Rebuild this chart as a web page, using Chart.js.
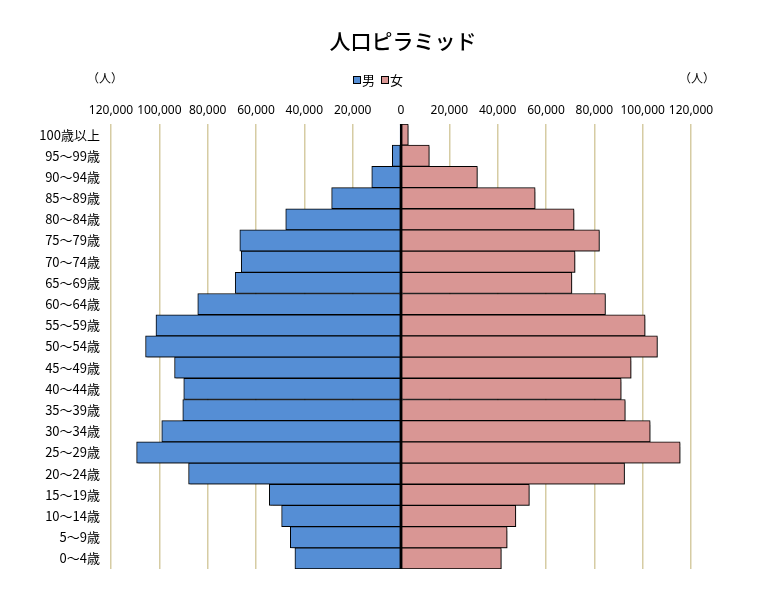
<!DOCTYPE html>
<html lang="ja">
<head>
<meta charset="utf-8">
<title>人口ピラミッド</title>
<script src="https://cdn.jsdelivr.net/npm/chart.js@4.4.1/dist/chart.umd.min.js"></script>
<style>
  html, body { margin: 0; padding: 0; background: #fff; }
  #wrap {
    position: relative;
    width: 765px;
    height: 612px;
    font-family: "Noto Sans CJK JP", "Noto Sans", sans-serif;
    color: #000;
  }
  #pyramid { position: absolute; left: 0; top: 0; }
  .chart-title {
    position: absolute; left: 0; top: 26px; width: 806px;
    text-align: center; font-size: 21px; line-height: 28px; font-weight: 500;
  }
  .unit {
    position: absolute; top: 69px; width: 60px;
    text-align: center; font-size: 12px; line-height: 18px;
  }
  .legend {
    position: absolute; left: 353px; top: 71px;
    display: flex; align-items: center; font-size: 13px; line-height: 18px;
  }
  .legend .swatch {
    display: inline-block; width: 6px; height: 6px;
    border: 1px solid #000; margin-right: 1px;
  }
  .legend .item { display: flex; align-items: center; margin-right: 6px; }
</style>
</head>
<body>
<div id="wrap">
  <canvas id="pyramid" width="765" height="612"></canvas>
  <div class="chart-title">人口ピラミッド</div>
  <div class="unit" style="left:75px">（人）</div>
  <div class="unit" style="left:667px">（人）</div>
  <div class="legend" id="legend"></div>
</div>
<script>
// Age groups, top row first
const ageGroups = [
  "100歳以上", "95～99歳", "90～94歳", "85～89歳", "80～84歳",
  "75～79歳", "70～74歳", "65～69歳", "60～64歳", "55～59歳",
  "50～54歳", "45～49歳", "40～44歳", "35～39歳", "30～34歳",
  "25～29歳", "20～24歳", "15～19歳", "10～14歳", "5～9歳", "0～4歳"
];

// Population (persons), same order as ageGroups
const maleCounts = [
  400, 3600, 12100, 28700, 47700,
  66700, 66100, 68600, 84100, 101400,
  105700, 93700, 89900, 90300, 99000,
  109400, 87900, 54500, 49400, 45800, 43900
];
const femaleCounts = [
  3000, 11700, 31600, 55500, 71600,
  82100, 72000, 70700, 84600, 101000,
  106100, 95200, 91100, 92800, 103100,
  115500, 92500, 53100, 47500, 43900, 41500
];

// Axis ticks
const axisMax = 120000;
const axisStep = 20000;

const MALE_COLOR = "#558ed5";
const FEMALE_COLOR = "#d99694";
const GRID_COLOR = "#d6cca3";

// Simple html legend
const legendEl = document.getElementById("legend");
[["男", MALE_COLOR], ["女", FEMALE_COLOR]].forEach(([name, color]) => {
  const item = document.createElement("span");
  item.className = "item";
  item.innerHTML = `<span class="swatch" style="background:${color}"></span><span>${name}</span>`;
  legendEl.appendChild(item);
});

// Soft shadow under the bars, like the office chart
const barShadow = {
  id: "barShadow",
  beforeDatasetsDraw(chart) {
    const { ctx } = chart;
    ctx.save();
    ctx.shadowColor = "rgba(0, 0, 0, 0.35)";
    ctx.shadowOffsetX = 1.5;
    ctx.shadowOffsetY = 1.5;
    ctx.shadowBlur = 1;
  },
  afterDatasetsDraw(chart) {
    chart.ctx.restore();
  },
};

// Black line at zero, drawn over the bars
const zeroLine = {
  id: "zeroLine",
  afterDatasetsDraw(chart) {
    const { ctx, chartArea, scales } = chart;
    const x = scales.x.getPixelForValue(0);
    ctx.save();
    ctx.strokeStyle = "#000";
    ctx.lineWidth = 2;
    ctx.beginPath();
    ctx.moveTo(x, chartArea.top);
    ctx.lineTo(x, chartArea.bottom);
    ctx.stroke();
    ctx.restore();
  },
};

const barStyle = {
  borderColor: "#000",
  borderWidth: 1,
  borderSkipped: false,
  barPercentage: 1,
  categoryPercentage: 1,
};

new Chart(document.getElementById("pyramid").getContext("2d"), {
  type: "bar",
  data: {
    labels: ageGroups,
    datasets: [
      { label: "男", data: maleCounts.map((v) => -v), backgroundColor: MALE_COLOR, ...barStyle },
      { label: "女", data: femaleCounts, backgroundColor: FEMALE_COLOR, ...barStyle },
    ],
  },
  options: {
    indexAxis: "y",
    responsive: false,
    animation: false,
    layout: { padding: { top: 100, right: 74, bottom: 43, left: 0 } },
    plugins: {
      legend: { display: false },
      title: { display: false },
      tooltip: { enabled: false },
    },
    scales: {
      x: {
        position: "top",
        stacked: true,
        min: -axisMax,
        max: axisMax,
        ticks: {
          stepSize: axisStep,
          autoSkip: false,
          maxRotation: 0,
          padding: 6,
          color: "#000",
          font: { family: "'Noto Sans'", size: 12 },
          callback: (v) => Math.abs(v).toLocaleString("en-US"),
        },
        grid: { color: GRID_COLOR, lineWidth: 1.5, drawTicks: false },
        border: { display: false },
        afterFit: (s) => { s.height = 24; },
      },
      y: {
        stacked: true,
        grid: { display: false },
        border: { display: false },
        ticks: {
          autoSkip: false,
          padding: 3,
          color: "#000",
          font: { family: "'Noto Sans CJK JP'", size: 13 },
        },
        afterFit: (s) => { s.width = 111; },
      },
    },
  },
  plugins: [barShadow, zeroLine],
});
</script>
</body>
</html>
